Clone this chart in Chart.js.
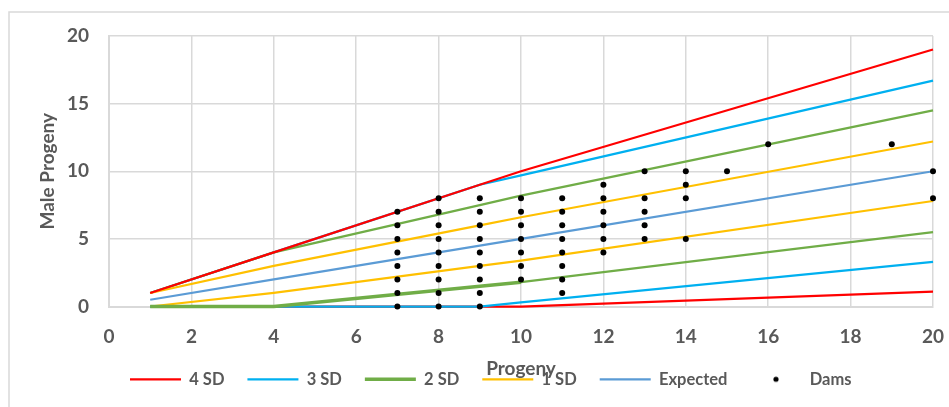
<!DOCTYPE html>
<html>
<head>
<meta charset="utf-8">
<script src="https://cdn.jsdelivr.net/npm/chart.js@4.4.1/dist/chart.umd.min.js"></script>
<style>
  html, body { margin: 0; padding: 0; background: #ffffff; }
  #wrap { width: 949px; height: 407px; }
</style>
</head>
<body>
<div id="wrap"><canvas id="chart" width="949" height="407"></canvas></div>
<script>
// Control lines at these progeny counts
const lineX = [1, 4, 9, 10, 20];
const sd4Upper = [1, 4, 9, 10, 19.0];
const sd4Lower = [0, 0, 0, 0, 1.1];
const sd3Upper = [1, 4, 9, 9.7, 16.7];
const sd3Lower = [0, 0, 0, 0.3, 3.3];
const sd2Upper = [1, 4, 7.5, 8.2, 14.5];
const sd2Lower = [0, 0, 1.5, 1.8, 5.5];
const sd1Upper = [1, 3, 6, 6.6, 12.2];
const sd1Lower = [0, 1, 3, 3.4, 7.8];
const expected = [0.5, 2, 4.5, 5, 10];

// Dams: progeny (x) and male progeny (y)
const damX = [
  7, 7, 7, 7, 7, 7, 7, 7,
  8, 8, 8, 8, 8, 8, 8, 8, 8,
  9, 9, 9, 9, 9, 9, 9, 9, 9,
  10, 10, 10, 10, 10, 10, 10,
  11, 11, 11, 11, 11, 11, 11, 11,
  12, 12, 12, 12, 12, 12,
  13, 13, 13, 13, 13,
  14, 14, 14, 14,
  15, 16, 19,
  20, 20
];
const damY = [
  0, 1, 2, 3, 4, 5, 6, 7,
  0, 1, 2, 3, 4, 5, 6, 7, 8,
  0, 1, 2, 3, 4, 5, 6, 7, 8,
  2, 3, 4, 5, 6, 7, 8,
  1, 2, 3, 4, 5, 6, 7, 8,
  4, 5, 6, 7, 8, 9,
  5, 6, 7, 8, 10,
  5, 8, 9, 10,
  10, 12, 12,
  8, 10
];

const xTicks = [0, 2, 4, 6, 8, 10, 12, 14, 16, 18, 20];
const yTicks = [0, 5, 10, 15, 20];

const FONT = 'Lato, "Open Sans", sans-serif';
const TEXT = '#595959';
const GRID = '#D9D9D9';

function pairs(xs, ys) {
  return xs.map((x, i) => ({ x: x, y: ys[i] }));
}

function lineSet(label, values, color, width, order) {
  return {
    label: label,
    data: pairs(lineX, values),
    showLine: true,
    borderColor: color,
    backgroundColor: color,
    borderWidth: width,
    pointRadius: 0,
    pointHoverRadius: 0,
    fill: false,
    clip: false,
    order: order
  };
}

// small dot used as the Dams legend marker
const dotMarker = document.createElement('canvas');
dotMarker.width = 8;
dotMarker.height = 8;
(function () {
  const c = dotMarker.getContext('2d');
  c.fillStyle = '#000000';
  c.beginPath();
  c.arc(4, 4, 2.6, 0, Math.PI * 2);
  c.fill();
})();

// chart area frame (left and top edges show in the crop)
const framePlugin = {
  id: 'frame',
  beforeDraw(chart) {
    const ctx = chart.ctx;
    ctx.save();
    ctx.fillStyle = '#ffffff';
    ctx.fillRect(0, 0, chart.width, chart.height);
    ctx.strokeStyle = GRID;
    ctx.lineWidth = 1.5;
    ctx.strokeRect(9, 12, chart.width + 20, chart.height + 20);
    ctx.restore();
  },
  afterLayout(chart) {
    // legend sits under the axis title, left of centre
    chart.legend.left = 107;
    chart.legend.top = 348;
  }
};

// lower 2 SD line is heavier up to 10 progeny
const sd2LowerSet = lineSet('2 SD', sd2Lower, '#70AD47', 3.5, 1);
sd2LowerSet.segment = {
  borderWidth: (ctx) => (ctx.p1.parsed.x <= 10 ? 3.5 : 2.25)
};

const datasets = [
  lineSet('4 SD', sd4Upper, '#FF0000', 2.25, 2),
  lineSet('3 SD', sd3Upper, '#00B0F0', 2.25, 6),
  sd2LowerSet,
  lineSet('1 SD', sd1Upper, '#FFC000', 2.25, 4),
  lineSet('Expected', expected, '#5B9BD5', 2.25, 5),
  {
    label: 'Dams',
    data: pairs(damX, damY),
    showLine: false,
    pointRadius: 3,
    pointHoverRadius: 3,
    pointBackgroundColor: '#000000',
    pointBorderColor: '#000000',
    borderColor: '#000000',
    backgroundColor: '#000000',
    borderWidth: 0,
    clip: false,
    order: 0
  },
  lineSet('4 SD', sd4Lower, '#FF0000', 2.25, 7),
  lineSet('3 SD', sd3Lower, '#00B0F0', 2.25, 3),
  lineSet('2 SD', sd2Upper, '#70AD47', 2.25, 4),
  lineSet('1 SD', sd1Lower, '#FFC000', 2.25, 4)
];

new Chart(document.getElementById('chart'), {
  type: 'scatter',
  data: { datasets: datasets },
  plugins: [framePlugin],
  options: {
    responsive: false,
    devicePixelRatio: 1,
    animation: false,
    layout: { padding: { left: 0, right: 16, top: 36, bottom: 0 } },
    plugins: {
      tooltip: { enabled: false },
      legend: {
        position: 'bottom',
        align: 'start',
        labels: {
          usePointStyle: true,
          pointStyle: 'line',
          pointStyleWidth: 51,
          padding: 23,
          color: TEXT,
          font: { family: FONT, size: 16.5, weight: 'bold' },
          filter: (item) => item.datasetIndex <= 5,
          sort: (a, b) => a.datasetIndex - b.datasetIndex,
          generateLabels(chart) {
            const items = Chart.defaults.plugins.legend.labels.generateLabels(chart);
            items.forEach((item) => {
              if (item.text === 'Dams') {
                item.pointStyle = dotMarker;
              } else {
                item.pointStyle = 'line';
              }
            });
            return items;
          }
        }
      }
    },
    scales: {
      x: {
        type: 'linear',
        min: 0,
        max: 20,
        afterFit: (s) => {
          s.height = 51;
          s.paddingLeft = 0;
          s.paddingRight = 0;
        },
        afterBuildTicks: (s) => { s.ticks = xTicks.map((v) => ({ value: v })); },
        ticks: {
          padding: 19,
          color: TEXT,
          font: { family: FONT, size: 19, weight: 'bold' }
        },
        grid: { color: GRID, lineWidth: 1.5, drawTicks: false },
        border: { color: GRID, width: 2 },
        title: {
          display: true,
          text: 'Progeny',
          color: TEXT,
          font: { family: FONT, size: 19, weight: 'bold' },
          padding: { top: 0, bottom: -23 }
        }
      },
      y: {
        type: 'linear',
        min: 0,
        max: 20,
        afterFit: (s) => { s.width = 109; },
        afterBuildTicks: (s) => { s.ticks = yTicks.map((v) => ({ value: v })); },
        ticks: {
          padding: 20,
          color: TEXT,
          font: { family: FONT, size: 19, weight: 'bold' }
        },
        grid: { color: GRID, lineWidth: 1.5, drawTicks: false },
        border: { color: GRID, width: 2 },
        title: {
          display: true,
          text: 'Male Progeny',
          color: TEXT,
          font: { family: FONT, size: 19, weight: 'bold' },
          padding: { top: 36, bottom: 0 }
        }
      }
    }
  }
});
</script>
</body>
</html>
